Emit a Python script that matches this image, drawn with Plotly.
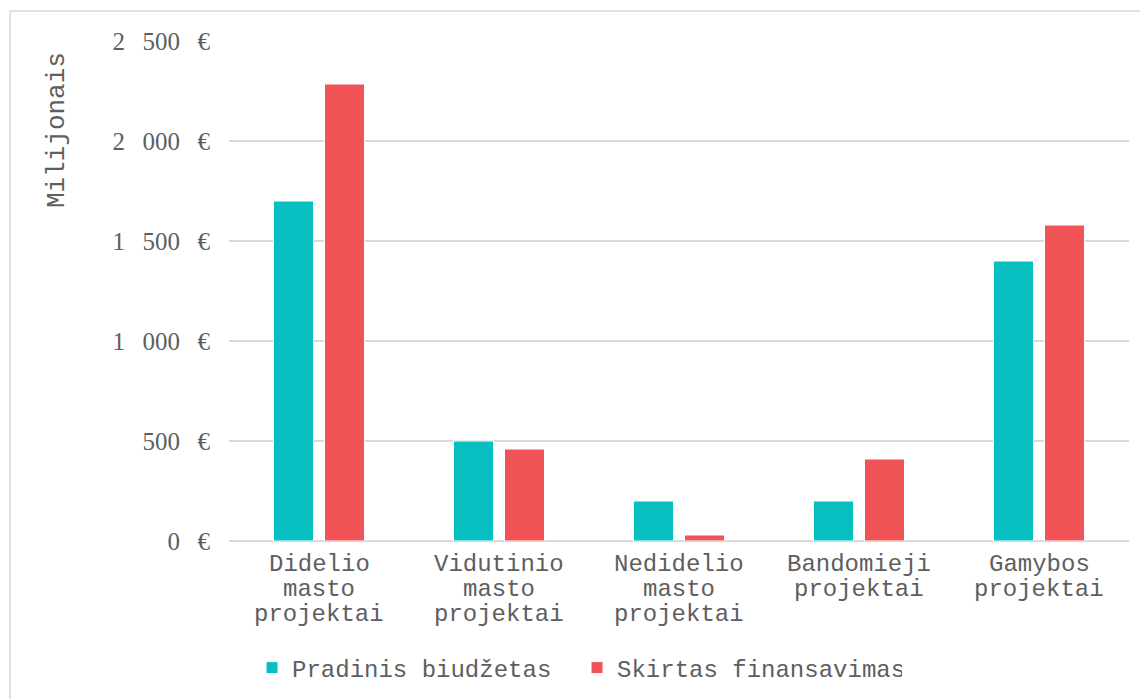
import plotly.graph_objects as go

category_lines = [["Didelio", "masto", "projektai"],
                  ["Vidutinio", "masto", "projektai"],
                  ["Nedidelio", "masto", "projektai"],
                  ["Bandomieji", "projektai"],
                  ["Gamybos", "projektai"]]
categories = [" ".join(lines) for lines in category_lines]
pradinis = [1700, 500, 200, 200, 1400]
skirtas = [2285, 460, 30, 410, 1580]
series_names = ["Pradinis biudžetas", "Skirtas finansavimas"]
y_ticks = [0, 500, 1000, 1500, 2000, 2500]
y_tick_labels = ["0\u2002\u2009€", "500\u2002\u2009€", "1\u2002\u2009000\u2002\u2009€",
                 "1\u2002\u2009500\u2002\u2009€", "2\u2002\u2009000\u2002\u2009€",
                 "2\u2002\u2009500\u2002\u2009€"]
y_title = "Milijonais"

TEAL = "#07BFC0"
RED = "#F05456"
TXT = "#5E5E5E"
GRID = "#D9D9D9"
MONO = "Liberation Mono, Courier New, monospace"
SERIF = "Liberation Serif, Times New Roman, serif"

fig = go.Figure()
fig.add_trace(go.Bar(x=categories, y=pradinis, name=series_names[0],
                     marker=dict(color=TEAL, line=dict(color="white", width=1))))
fig.add_trace(go.Bar(x=categories, y=skirtas, name=series_names[1],
                     marker=dict(color=RED, line=dict(color="white", width=1))))

annotations = [dict(text=y_title, xref="paper", yref="paper",
                    x=-0.191, y=0.982, xanchor="center", yanchor="top",
                    textangle=-90, showarrow=False,
                    font=dict(family=MONO, size=26, color=TXT))]
for cat, lines in zip(categories, category_lines):
    for i, line in enumerate(lines):
        annotations.append(dict(text=line, x=cat, xref="x", yref="paper", y=0,
                                xanchor="center", yanchor="middle",
                                yshift=-(23 + 25 * i), showarrow=False,
                                font=dict(family=MONO, size=24, color=TXT)))

fig.update_layout(
    width=1140, height=691,
    margin=dict(l=221, r=19, t=33, b=158, autoexpand=False),
    paper_bgcolor="white", plot_bgcolor="white",
    barmode="group", bargap=0.433, bargroupgap=0.216,
    font=dict(family=MONO, color=TXT),
    showlegend=True,
    legend=dict(orientation="h", x=0.0256, xanchor="left", y=-0.254, yanchor="middle",
                font=dict(family=MONO, size=24, color=TXT), itemwidth=30,
                entrywidth=280, entrywidthmode="pixels",
                bgcolor="rgba(0,0,0,0)", traceorder="normal"),
    xaxis=dict(showgrid=False, showline=False, ticks="", showticklabels=False),
    yaxis=dict(range=[0, 2500], tickvals=y_ticks, ticktext=y_tick_labels,
               showgrid=True, gridcolor=GRID, gridwidth=2, zeroline=True,
               zerolinecolor=GRID, zerolinewidth=2, showline=False, ticks="",
               ticklabelstandoff=18,
               tickfont=dict(family=SERIF, size=25, color=TXT)),
    shapes=[dict(type="rect", xref="paper", yref="paper",
                 x0=-0.2433, x1=1.0206, y0=-0.35, y1=1.06,
                 line=dict(color="#D9D9D9", width=1.5), fillcolor="rgba(0,0,0,0)",
                 layer="below")],
    annotations=annotations,
)

fig.write_html("out.html")
